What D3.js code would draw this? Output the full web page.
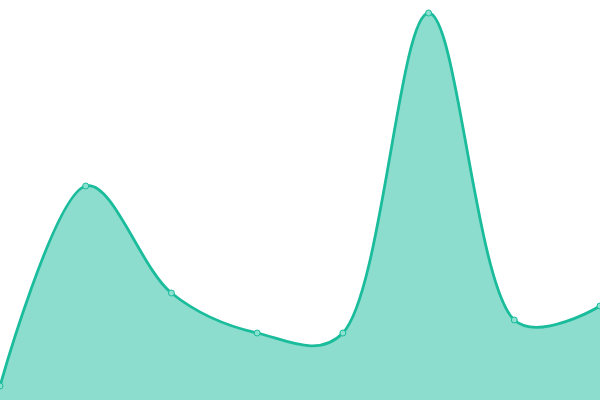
<!DOCTYPE html>
<html>
<head>
<meta charset="utf-8">
<script src="https://cdn.jsdelivr.net/npm/d3@7"></script>
<style>
  html, body { margin: 0; padding: 0; background: #fff; }
  svg { display: block; }
</style>
</head>
<body>
<svg id="chart" width="600" height="400"></svg>
<script>
// data
var xIndex = [0, 1, 2, 3, 4, 5, 6, 7];
var values = [14, 214, 107, 67, 67, 387, 80, 94];

var width = 600, height = 400;
var svg = d3.select("#chart");

var xScale = d3.scaleLinear().domain([0, xIndex.length - 1]).range([0, width]);
var yScale = d3.scaleLinear().domain([0, 400]).range([height, 0]);

var pts = xIndex.map(function(d, i) { return { x: d, y: values[i] }; });

var curve = d3.curveCatmullRom.alpha(0.35);

var area = d3.area()
    .x(function(d) { return xScale(d.x); })
    .y0(height)
    .y1(function(d) { return yScale(d.y); })
    .curve(curve);

var line = d3.line()
    .x(function(d) { return xScale(d.x); })
    .y(function(d) { return yScale(d.y); })
    .curve(curve);

svg.append("path")
    .attr("d", area(pts))
    .attr("fill", "#1abc9c")
    .attr("fill-opacity", 0.5);

svg.append("path")
    .attr("d", line(pts))
    .attr("fill", "none")
    .attr("stroke", "#1abc9c")
    .attr("stroke-width", 2.8);

svg.selectAll("circle")
    .data(pts)
    .enter().append("circle")
    .attr("cx", function(d) { return xScale(d.x); })
    .attr("cy", function(d) { return yScale(d.y); })
    .attr("r", 3)
    .attr("fill", "#8ce0cf")
    .attr("stroke", "#1abc9c")
    .attr("stroke-width", 1);
</script>
</body>
</html>
